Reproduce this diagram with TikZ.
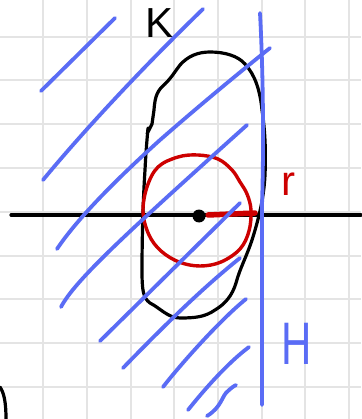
\documentclass[tikz,border=0pt]{standalone}
\usepackage{fontspec}
\newfontfamily\labfont{Liberation Sans}
\definecolor{penblue}{RGB}{90,108,245}
\definecolor{penred}{RGB}{205,0,0}
\definecolor{gridgray}{RGB}{228,228,228}
\tikzset{
  gridline/.style={draw=gridgray, line width=1.6pt},
  blackpen/.style={draw=black, line width=3.2pt, line cap=round, line join=round},
  redpen/.style={draw=penred, line width=3.4pt, line cap=round, line join=round},
  bluepen/.style={draw=penblue, line width=3.8pt, line cap=round, line join=round},
  lab/.style={inner sep=0pt, font=\labfont}
}
\begin{document}
\begin{tikzpicture}[x=1pt, y=-1pt]
\useasboundingbox[fill=white] (0,0) rectangle (361,419);
% grid
\foreach \gx in {43,87,131,174,218,262,305,349}
  \draw[gridline] (\gx,0) -- (\gx,419);
\foreach \gy in {37,80,124,168,212,256,299,343,387}
  \draw[gridline] (0,\gy) -- (361,\gy);

% axis
\draw[blackpen] (11,215) -- (361,215);

% set K
\draw[blackpen] (147,134) -- (152,124) -- (154,110)
  .. controls (155,95) and (158,90) .. (165,84)
  .. controls (172,77) and (176,70) .. (180,65)
  .. controls (188,56) and (198,52) .. (210,52)
  .. controls (225,52) and (238,56) .. (245,64)
  .. controls (255,75) and (260,90) .. (262,110)
  .. controls (265,130) and (266,150) .. (265,175)
  .. controls (264,195) and (260,215) .. (252,240)
  .. controls (246,258) and (240,268) .. (236,283)
  .. controls (232,296) and (225,304) .. (215,310)
  .. controls (205,317) and (195,318) .. (180,318)
  .. controls (168,318) and (160,308) .. (150,303)
  .. controls (143,298) and (142,290) .. (142,270)
  .. controls (142,240) and (143,200) .. (145,170)
  .. controls (146,150) and (147,140) .. (148,128);

% bottom-left arc
\draw[blackpen] (0,387) .. controls (4,393) and (6,402) .. (6,419);

% red ball
\draw[redpen] plot[smooth cycle, tension=0.6] coordinates {
  (143,212) (147,187) (158,167) (178,157) (198,155) (218,159)
  (232,170) (240,182) (247,194) (251,210) (249,231) (240,249)
  (221,262) (200,266) (179,262) (161,251) (149,235)};
\draw[draw=penred, line width=5.5pt, line cap=round] (208,215) -- (255,213);
\fill[black] (199,216) circle (6.5);

% hyperplane H
\draw[bluepen] (260,13) .. controls (263,70) and (264,140) .. (262,205) -- (262,405);

% hatching
\draw[bluepen] (41,91) -- (115,18);
\draw[bluepen] (43,180) .. controls (80,135) and (140,70) .. (203,9);
\draw[bluepen] (57,249) .. controls (75,222) and (110,185) .. (160,140) .. controls (200,105) and (240,72) .. (270,48);
\draw[bluepen] (61,307) .. controls (75,280) and (130,230) .. (247,125);
\draw[bluepen] (100,341) -- (240,203);
\draw[bluepen] (123,368) .. controls (160,330) and (200,290) .. (240,258);
\draw[bluepen] (163,387) .. controls (180,365) and (220,320) .. (246,299);
\draw[bluepen] (188,410) .. controls (200,395) and (225,365) .. (249,347);
\draw[bluepen] (207,416) .. controls (222,407) and (222,395) .. (228,391) .. controls (231,388) and (234,386) .. (236,385);

% labels
\node[lab, font=\labfont\fontsize{42}{42}\selectfont] (klab) at (160,23) {K};
\node[lab, text=penred, font=\labfont\fontsize{42}{42}\selectfont] (rlab) at (288,184) {r};
\node[lab, text=penblue, font=\labfont\fontsize{60}{60}\selectfont] (hlab) at (297,344) {\scalebox{0.7}[1]{H}};
\end{tikzpicture}
\end{document}
